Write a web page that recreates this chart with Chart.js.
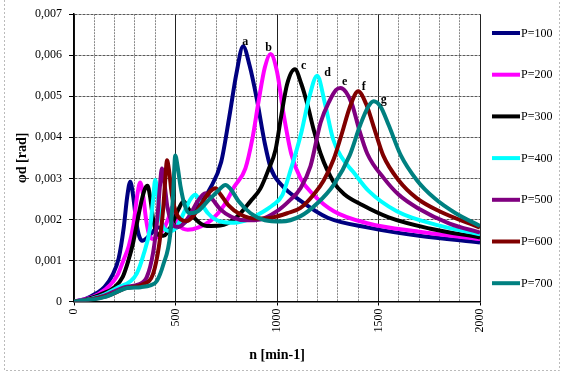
<!DOCTYPE html>
<html>
<head>
<meta charset="UTF-8">
<script src="https://cdn.jsdelivr.net/npm/chart.js"></script>
<style>
  html, body { margin: 0; padding: 0; background: #fff; }
</style>
</head>
<body>
<canvas id="grafico" width="566" height="377"></canvas>
<script>
// data: n [min-1] and phi d [rad]
const seriesNames = ['P=100', 'P=200', 'P=300', 'P=400', 'P=500', 'P=600', 'P=700'];

const n100 = [0, 60, 110, 150, 190, 220, 245, 262, 277, 292, 308, 322, 336, 370, 414, 460, 540, 610, 670, 725, 765, 800, 833, 865, 900, 940, 970, 1020, 1120, 1250, 1450, 1700, 2000];
const phi100 = [0, 0.00007, 0.0002, 0.00035, 0.00065, 0.00105, 0.0018, 0.00255, 0.00292, 0.00255, 0.0019, 0.00158, 0.00148, 0.0016, 0.0018, 0.00175, 0.0019, 0.0023, 0.00275, 0.0034, 0.0045, 0.00555, 0.00622, 0.00575, 0.00495, 0.00385, 0.00324, 0.00285, 0.00244, 0.00204, 0.0018, 0.0016, 0.00144];

const n200 = [0, 60, 120, 178, 215, 243, 270, 293, 312, 326, 340, 355, 372, 392, 420, 450, 470, 483, 497, 520, 560, 610, 680, 740, 790, 844, 880, 910, 940, 968, 1000, 1034, 1070, 1116, 1180, 1280, 1450, 1700, 2000];
const phi200 = [0, 0.00006, 0.00018, 0.0004, 0.00065, 0.001, 0.00135, 0.00188, 0.0026, 0.0029, 0.0026, 0.002, 0.0016, 0.00152, 0.00162, 0.00185, 0.0021, 0.0023, 0.0021, 0.00185, 0.00175, 0.0018, 0.002, 0.00235, 0.0028, 0.00324, 0.004, 0.0049, 0.0057, 0.00603, 0.0056, 0.00452, 0.0036, 0.003, 0.0026, 0.0022, 0.0019, 0.0017, 0.00152];

const n300 = [0, 60, 130, 200, 240, 268, 290, 309, 335, 350, 362, 375, 390, 410, 440, 480, 515, 540, 565, 600, 655, 720, 800, 869, 918, 957, 993, 1020, 1050, 1088, 1120, 1150, 1180, 1215, 1280, 1330, 1420, 1550, 1750, 2000];
const phi300 = [0, 0.00005, 0.00017, 0.00035, 0.0006, 0.001, 0.0014, 0.00188, 0.0025, 0.00275, 0.00282, 0.00255, 0.002, 0.00165, 0.0016, 0.00185, 0.00225, 0.00244, 0.00225, 0.002, 0.00184, 0.00185, 0.00205, 0.00244, 0.00275, 0.0032, 0.0037, 0.0045, 0.0053, 0.00566, 0.0053, 0.0048, 0.0042, 0.0036, 0.0029, 0.00262, 0.00235, 0.00205, 0.00178, 0.00156];

const n400 = [0, 60, 140, 220, 280, 309, 340, 375, 390, 400, 412, 428, 450, 480, 510, 540, 575, 598, 620, 660, 720, 790, 860, 918, 980, 1027, 1067, 1120, 1160, 1198, 1235, 1276, 1320, 1375, 1450, 1590, 1800, 2000];
const phi400 = [0, 0.00004, 0.00015, 0.00035, 0.0005, 0.00068, 0.0011, 0.0018, 0.0025, 0.00296, 0.0026, 0.002, 0.00175, 0.00172, 0.00185, 0.00215, 0.0025, 0.0026, 0.00245, 0.00215, 0.00195, 0.00192, 0.002, 0.00215, 0.00235, 0.0026, 0.0032, 0.00412, 0.005, 0.0055, 0.00485, 0.00396, 0.0035, 0.00316, 0.0027, 0.0022, 0.00185, 0.00164];

const n500 = [0, 60, 150, 250, 320, 359, 390, 410, 423, 433, 445, 460, 480, 505, 530, 570, 610, 647, 680, 720, 780, 850, 918, 1000, 1060, 1116, 1165, 1215, 1260, 1290, 1312, 1340, 1370, 1404, 1445, 1527, 1600, 1692, 1850, 2000];
const phi500 = [0, 0.00003, 0.00014, 0.00035, 0.00042, 0.0006, 0.0012, 0.002, 0.0028, 0.00324, 0.0029, 0.0023, 0.00195, 0.00182, 0.00185, 0.0021, 0.00245, 0.00264, 0.0025, 0.00225, 0.00205, 0.00198, 0.002, 0.0022, 0.00245, 0.00276, 0.0033, 0.00436, 0.0049, 0.00515, 0.0052, 0.0051, 0.0048, 0.0042, 0.0036, 0.003, 0.0026, 0.00228, 0.0019, 0.00168];

const n600 = [0, 60, 160, 260, 340, 390, 420, 440, 450, 458, 468, 482, 500, 525, 556, 590, 630, 670, 697, 720, 760, 820, 900, 980, 1050, 1116, 1180, 1230, 1280, 1320, 1360, 1400, 1440, 1480, 1523, 1600, 1688, 1800, 2000];
const phi600 = [0, 0.00003, 0.00013, 0.00033, 0.00042, 0.00068, 0.0014, 0.0023, 0.003, 0.00344, 0.0032, 0.0026, 0.0022, 0.002, 0.00196, 0.0021, 0.0024, 0.00268, 0.00276, 0.00262, 0.00235, 0.00212, 0.00202, 0.00205, 0.00215, 0.00228, 0.0026, 0.00295, 0.00348, 0.0041, 0.00475, 0.00512, 0.0048, 0.0042, 0.00356, 0.00295, 0.00252, 0.0022, 0.0018];

const n700 = [0, 60, 160, 262, 330, 380, 408, 440, 474, 488, 499, 510, 525, 545, 570, 610, 660, 710, 746, 770, 810, 870, 940, 1020, 1116, 1200, 1280, 1358, 1410, 1450, 1476, 1510, 1550, 1610, 1690, 1775, 1880, 2000];
const phi700 = [0, 0.00003, 0.00012, 0.00033, 0.00035, 0.0004, 0.0005, 0.0009, 0.00164, 0.0026, 0.00356, 0.0033, 0.0028, 0.00235, 0.00215, 0.0022, 0.00245, 0.0027, 0.00284, 0.00275, 0.00245, 0.00215, 0.00198, 0.00195, 0.00208, 0.0024, 0.00285, 0.00356, 0.0043, 0.00475, 0.00488, 0.00475, 0.0043, 0.00356, 0.00295, 0.00252, 0.00215, 0.00184];

// peak tags a..g, placed in data coordinates
const peakTags = ['a', 'b', 'c', 'd', 'e', 'f', 'g'];
const tagN = [844, 958, 1131, 1249, 1333, 1427, 1526];
const tagPhi = [0.00633, 0.00619, 0.00574, 0.00557, 0.00535, 0.00523, 0.00492];

const xTickLabels = ['0', '500', '1000', '1500', '2000'];
const yTickLabels = ['0', '0,001', '0,002', '0,003', '0,004', '0,005', '0,006', '0,007'];

const allN = [n100, n200, n300, n400, n500, n600, n700];
const allPhi = [phi100, phi200, phi300, phi400, phi500, phi600, phi700];
const colores = ['#000080', '#FF00FF', '#000000', '#00FFFF', '#800080', '#800000', '#008080'];

const serif = '"Liberation Serif", "Times New Roman", serif';

const datasets = seriesNames.map((name, i) => ({
  label: name,
  data: allN[i].map((n, j) => ({ x: n, y: allPhi[i][j] })),
  borderColor: colores[i],
  backgroundColor: colores[i],
  borderWidth: 4,
  pointRadius: 0,
  fill: false,
  cubicInterpolationMode: 'monotone',
  order: 6 - i
}));

const extras = {
  id: 'extras',
  afterDraw(chart) {
    const ctx = chart.ctx;
    const xs = chart.scales.x, ys = chart.scales.y;
    ctx.save();
    // peak tags
    ctx.font = 'bold 12px ' + serif;
    ctx.fillStyle = '#000';
    ctx.textAlign = 'center';
    ctx.textBaseline = 'middle';
    peakTags.forEach((t, i) => {
      ctx.fillText(t, xs.getPixelForValue(tagN[i]), ys.getPixelForValue(tagPhi[i]));
    });
    // legend
    ctx.font = '12px ' + serif;
    ctx.textAlign = 'left';
    seriesNames.forEach((name, i) => {
      const y = 33 + i * 41.7;
      ctx.strokeStyle = colores[i];
      ctx.lineWidth = 4;
      ctx.beginPath();
      ctx.moveTo(492, y);
      ctx.lineTo(520, y);
      ctx.stroke();
      ctx.fillStyle = '#000';
      ctx.fillText(name, 521, y + 0.5);
    });
    // dotted chart-area border
    ctx.strokeStyle = '#bbb';
    ctx.lineWidth = 1;
    ctx.setLineDash([2, 2]);
    ctx.beginPath();
    ctx.moveTo(4.5, 0);
    ctx.lineTo(4.5, 370.5);
    ctx.lineTo(559.5, 370.5);
    ctx.lineTo(559.5, 0);
    ctx.stroke();
    ctx.restore();
  }
};

new Chart(document.getElementById('grafico'), {
  type: 'line',
  data: { datasets: datasets },
  options: {
    responsive: false,
    animation: false,
    layout: { padding: { left: 10, right: 86, top: 10, bottom: 0 } },
    plugins: { legend: { display: false }, tooltip: { enabled: false } },
    scales: {
      x: {
        type: 'linear',
        min: 0,
        max: 2000,
        afterFit(scale) { scale.height = 75.5; },
        ticks: {
          stepSize: 100,
          autoSkip: false,
          minRotation: 90,
          maxRotation: 90,
          padding: 3,
          color: '#000',
          font: { family: serif, size: 12 },
          callback: v => (v % 500 === 0 ? xTickLabels[v / 500] : '')
        },
        grid: {
          color: c => (c.tick && c.tick.value % 500 === 0 ? '#222' : '#888'),
          tickColor: c => (c.tick && c.tick.value % 500 === 0 ? '#000' : 'rgba(0,0,0,0)'),
          tickLength: 4
        },
        border: {
          color: '#000',
          width: 1.5,
          dash: c => (c.tick && c.tick.value % 500 === 0 ? [] : [2, 1])
        },
        title: {
          display: true,
          text: 'n [min-1]',
          color: '#000',
          font: { family: serif, size: 14, weight: 'bold' },
          padding: { top: 4, bottom: 13.6 }
        }
      },
      y: {
        min: 0,
        max: 0.007,
        afterFit(scale) { scale.width = 64; },
        ticks: {
          stepSize: 0.001,
          padding: 7,
          color: '#000',
          font: { family: serif, size: 12 },
          callback: (v, i) => yTickLabels[i]
        },
        grid: {
          color: '#5a5a5a',
          tickColor: '#000',
          tickLength: 5
        },
        border: { color: '#000', width: 1.5, dash: [3, 1] },
        title: {
          display: true,
          text: 'φd [rad]',
          color: '#000',
          font: { family: serif, size: 14, weight: 'bold' },
          padding: { top: 3.6, bottom: 2 }
        }
      }
    }
  },
  plugins: [extras]
});
</script>
</body>
</html>
